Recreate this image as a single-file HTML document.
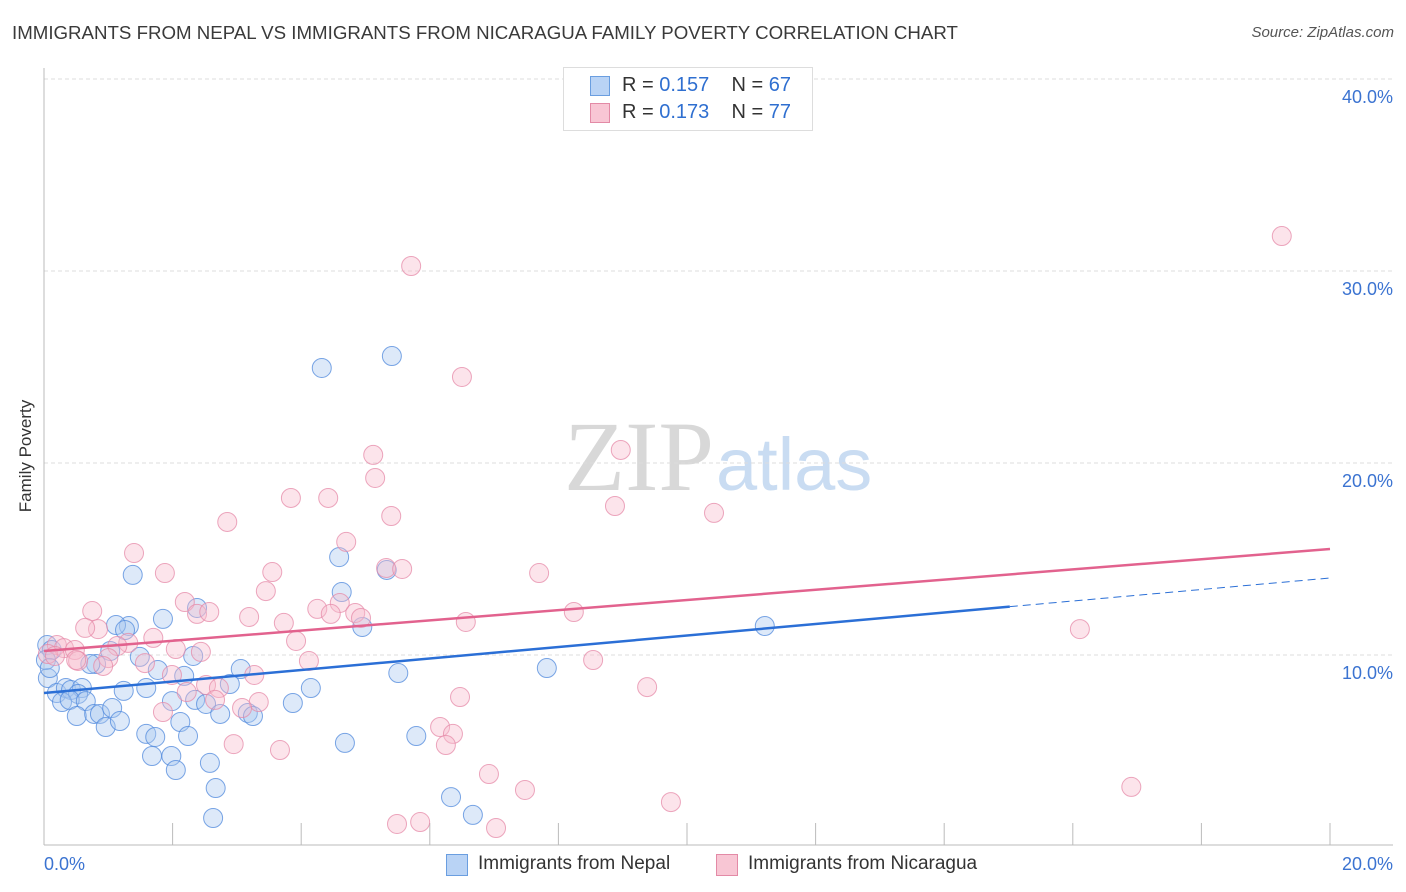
<!DOCTYPE html>
<html><head><meta charset="utf-8"><style>
body{margin:0;background:#fff;font-family:"Liberation Sans",sans-serif;}
#wrap{position:relative;width:1406px;height:892px;overflow:hidden}
.t{position:absolute;white-space:nowrap}
</style></head><body><div id="wrap">
<div class="t" style="left:12px;top:22px;font-size:18.7px;color:#3a3a3a">IMMIGRANTS FROM NEPAL VS IMMIGRANTS FROM NICARAGUA FAMILY POVERTY CORRELATION CHART</div>
<div class="t" style="right:12px;top:24px;font-size:15px;color:#555;font-style:italic">Source: ZipAtlas.com</div>
<div class="t" style="left:-30px;top:446px;font-size:17px;color:#333;transform:rotate(-90deg)">Family Poverty</div>
<svg id="svg" width="1406" height="892" style="position:absolute;left:0;top:0"></svg>
<div style="position:absolute;left:563px;top:67px;width:248px;height:62px;border:1px solid #ddd;background:#fff;font-size:20px;color:#333">
<div style="position:absolute;left:26px;top:8px;width:18px;height:18px;background:#b9d3f5;border:1px solid #6a9ee0"></div>
<div class="t" style="left:58px;top:6px">R = <span style="color:#2f6fd0">0.157</span>&nbsp;&nbsp;&nbsp; N = <span style="color:#2f6fd0">67</span></div>
<div style="position:absolute;left:26px;top:35px;width:18px;height:18px;background:#f8c6d4;border:1px solid #e38aa6"></div>
<div class="t" style="left:58px;top:33px">R = <span style="color:#2f6fd0">0.173</span>&nbsp;&nbsp;&nbsp; N = <span style="color:#2f6fd0">77</span></div>
</div>
<div style="position:absolute;left:446px;top:853px;font-size:19px;color:#333">
<div style="position:absolute;left:0;top:1px;width:20px;height:20px;background:#b9d3f5;border:1px solid #6a9ee0"></div>
<div class="t" style="left:32px;top:0">Immigrants from Nepal</div>
<div style="position:absolute;left:270px;top:1px;width:20px;height:20px;background:#f8c6d4;border:1px solid #e38aa6"></div>
<div class="t" style="left:302px;top:0">Immigrants from Nicaragua</div>
</div>
</div>
<script>
const blueX=[4.32,5.41,4.59,4.63,5.33,4.95,1.38,1.85,2.38,1.32,1.12,1.26,1.03,1.49,0.81,0.72,0.05,0.12,0.06,0.20,0.34,0.42,0.59,0.53,0.28,0.40,0.65,0.51,0.78,0.87,1.06,0.96,1.18,1.24,1.59,1.77,1.99,2.18,2.32,2.35,2.52,2.89,3.06,2.74,3.17,3.25,2.12,2.24,1.59,1.73,1.68,1.98,2.05,2.58,2.67,2.63,3.87,4.15,4.68,5.51,5.79,6.33,6.67,7.82,11.21,0.03,0.09];
const blueY=[24.95,25.57,15.10,13.28,14.43,11.46,14.17,11.88,12.45,11.51,11.56,11.30,10.21,9.90,9.53,9.53,10.52,10.26,8.80,8.02,8.28,8.18,8.28,7.97,7.55,7.66,7.60,6.82,6.93,6.93,7.24,6.25,6.56,8.13,8.28,9.22,7.60,8.91,9.95,7.66,7.45,8.49,9.27,6.93,6.98,6.82,6.51,5.78,5.89,5.73,4.74,4.74,4.01,4.38,3.07,1.51,7.50,8.28,5.42,9.06,5.78,2.60,1.67,9.32,11.51,9.74,9.32];
const pinkX=[19.25,5.71,6.50,8.97,5.12,5.15,3.84,4.42,5.40,8.88,10.42,2.85,4.70,1.40,5.32,5.57,7.70,3.55,1.88,3.45,0.75,2.19,2.38,2.57,3.19,4.60,4.25,4.84,4.46,4.93,6.56,8.24,16.11,3.73,0.84,0.64,1.70,1.31,1.14,2.05,2.44,3.92,0.20,0.31,0.48,0.06,0.17,1.00,0.92,0.53,1.57,4.12,1.99,3.27,8.54,2.52,2.22,2.72,9.38,6.47,3.34,3.08,2.66,1.85,6.16,6.36,6.25,2.95,3.67,6.92,7.48,9.75,16.91,5.49,5.85,7.03,0.50];
const pinkY=[31.82,30.26,24.48,20.68,20.42,19.22,18.18,18.18,17.24,17.76,17.40,16.93,15.89,15.31,14.53,14.48,14.27,14.32,14.27,13.33,12.29,12.76,12.14,12.24,11.98,12.71,12.40,12.19,12.14,11.93,11.72,12.24,11.35,11.67,11.35,11.41,10.89,10.63,10.47,10.31,10.16,10.73,10.52,10.36,10.26,10.05,9.95,9.84,9.43,9.69,9.58,9.69,8.96,8.96,9.74,8.44,8.07,8.28,8.33,7.81,7.55,7.24,7.66,7.03,6.25,5.89,5.31,5.36,5.05,3.80,2.97,2.34,3.13,1.20,1.30,0.99,9.74];
const yTicks=[10,20,30,40];
const xTickLabels=["0.0%","20.0%"];
const blueTrend=[8.02,14.01,15.02];
const pinkTrend=[10.21,15.52];
const X=v=>44+v*64.3, Y=v=>847-v*19.2;
const svg=document.getElementById('svg');const NS='http://www.w3.org/2000/svg';
function mk(t,a){const e=document.createElementNS(NS,t);for(const k in a)e.setAttribute(k,a[k]);svg.appendChild(e);return e;}
let w=mk('text',{x:714,y:490,'font-size':100,'font-family':'Liberation Serif,serif','fill':'#d8d8d8','text-anchor':'end'});w.textContent='ZIP';


let w2=mk('text',{x:716,y:490,'font-size':74,'font-family':'Liberation Sans,sans-serif','fill':'#c9dcf2'});w2.textContent='atlas';


yTicks.forEach(v=>{const l=mk('line',{x1:44,x2:1393,y1:Y(v),y2:Y(v),stroke:'#ddd','stroke-dasharray':'4,3'});


const t=mk('text',{x:1393,y:Y(v)+24,'font-size':18,fill:'#3b73d1','text-anchor':'end'});t.textContent=v.toFixed(1)+'%';

});
mk('line',{x1:44,x2:44,y1:68,y2:845,stroke:'#bbb'});
mk('line',{x1:44,x2:1393,y1:845,y2:845,stroke:'#bbb'});
for(let i=1;i<=10;i++){const l=mk('line',{x1:X(i*2),x2:X(i*2),y1:823,y2:845,stroke:'#bbb'});

}
[[0,44,'start'],[1,1393,'end']].forEach(([i,x,a])=>{const t=mk('text',{x:x,y:870,'font-size':18,fill:'#3b73d1','text-anchor':a});t.textContent=xTickLabels[i];

});
function pts(xs,ys,f,s,n){xs.forEach((x,i)=>{const c=mk('circle',{cx:X(x),cy:Y(ys[i]),r:9.5,fill:f,stroke:s,'stroke-width':1,'fill-opacity':0.4,'stroke-opacity':0.75});

});}
pts(blueX,blueY,'#a9c8f0','#4f88dc','nepal-point');
pts(pinkX,pinkY,'#f7bccd','#e58aa8','nicaragua-point');
let b=mk('line',{x1:X(0),y1:Y(blueTrend[0]),x2:X(blueTrend[2]),y2:Y(blueTrend[0]+(blueTrend[1]-blueTrend[0])*blueTrend[2]/20),stroke:'#2b6fd6','stroke-width':2.5});


let bd=mk('line',{x1:X(blueTrend[2]),y1:Y(blueTrend[0]+(blueTrend[1]-blueTrend[0])*blueTrend[2]/20),x2:X(20),y2:Y(blueTrend[1]),stroke:'#2b6fd6','stroke-width':1,'stroke-dasharray':'8,5'});


let p=mk('line',{x1:X(0),y1:Y(pinkTrend[0]),x2:X(20),y2:Y(pinkTrend[1]),stroke:'#e2628e','stroke-width':2.5});


</script></body></html>
